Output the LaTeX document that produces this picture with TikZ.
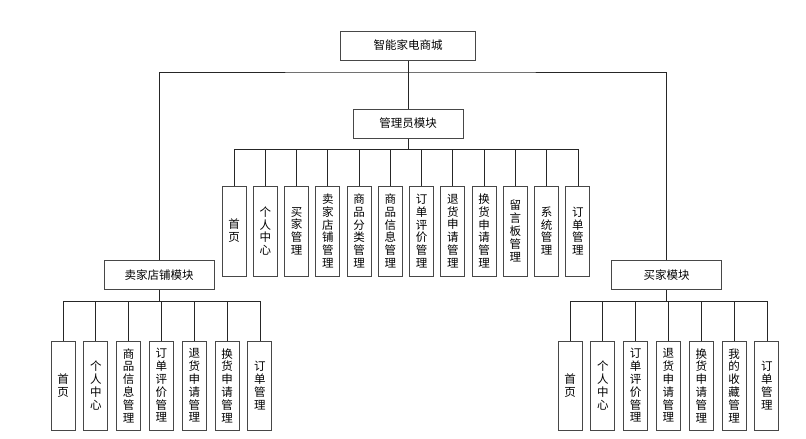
\documentclass[tikz,border=0pt]{standalone}
\usepackage{fontspec}
\newfontfamily\cjk{Noto Sans CJK SC}
\begin{document}
\begin{tikzpicture}[x=1pt,y=-1pt,
  box/.style={draw=black!72,line width=1pt,fill=white,inner sep=0pt,align=center,
    font=\cjk\fontsize{11.5}{12.8}\selectfont},
  hbox/.style={box,minimum width=110pt,minimum height=29pt},
  vbox/.style={box,minimum width=24pt,minimum height=90pt},
  conn/.style={draw=black!85,line width=0.9pt}]
\useasboundingbox (0,0) rectangle (806,439);
\node[hbox,minimum width=135pt] (top) at (408,45.5) {智能家电商城};
\node[hbox] (admin) at (408,123.5) {管理员模块};
\node[hbox] (seller) at (159,275) {卖家店铺模块};
\node[hbox] (buyer) at (666.5,275) {买家模块};
\coordinate (busT) at (408,72);
\coordinate (busA) at (408,149);
\coordinate (busL) at (159,301);
\coordinate (busR) at (666.5,301);
\draw[conn] (top.south) -- (admin.north);
\draw[conn] (seller.north) |- (busT) -| (buyer.north);
\draw[conn] (admin.south) -- (busA);
\draw[conn] (seller.south) -- (busL);
\draw[conn] (buyer.south) -- (busR);
\foreach \t [count=\i] in {首\\页,个\\人\\中\\心,买\\家\\管\\理,卖\\家\\店\\铺\\管\\理,商\\品\\分\\类\\管\\理,商\\品\\信\\息\\管\\理,订\\单\\评\\价\\管\\理,退\\货\\申\\请\\管\\理,换\\货\\申\\请\\管\\理,留\\言\\板\\管\\理,系\\统\\管\\理,订\\单\\管\\理}{
  \node[vbox] (a\i) at ({234+(\i-1)*31.27},231) {\t};
  \draw[conn] (a\i.north) |- (busA);
}
\foreach \t [count=\i] in {首\\页,个\\人\\中\\心,商\\品\\信\\息\\管\\理,订\\单\\评\\价\\管\\理,退\\货\\申\\请\\管\\理,换\\货\\申\\请\\管\\理,订\\单\\管\\理}{
  \node[vbox,minimum height=89pt] (l\i) at ({63+(\i-1)*32.83},385.5) {\t};
  \draw[conn] (l\i.north) |- (busL);
}
\foreach \t [count=\i] in {首\\页,个\\人\\中\\心,订\\单\\评\\价\\管\\理,退\\货\\申\\请\\管\\理,换\\货\\申\\请\\管\\理,我\\的\\收\\藏\\管\\理,订\\单\\管\\理}{
  \node[vbox,minimum height=89pt] (r\i) at ({570+(\i-1)*32.83},385.5) {\t};
  \draw[conn] (r\i.north) |- (busR);
}
\end{tikzpicture}
\end{document}
